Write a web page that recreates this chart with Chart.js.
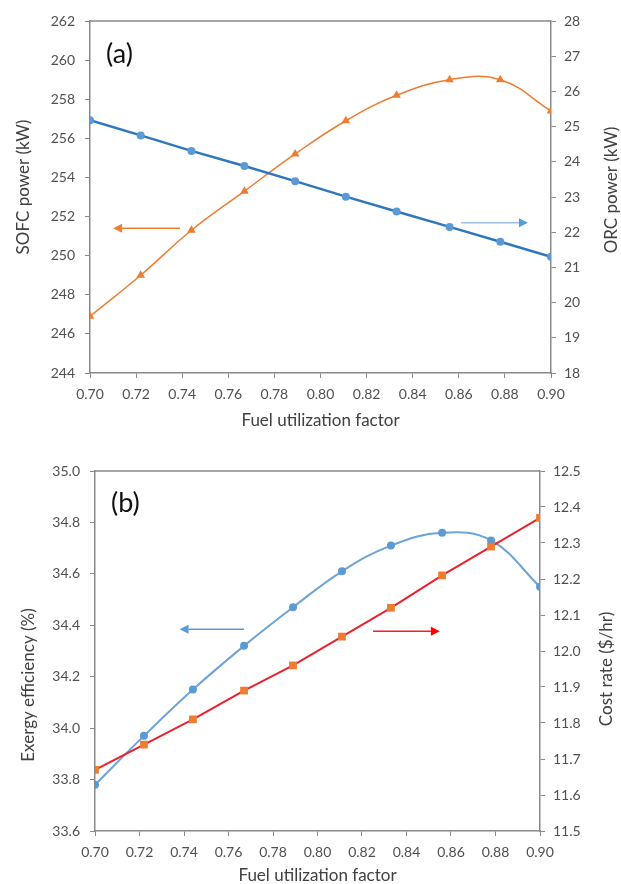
<!DOCTYPE html>
<html lang="en">
<head>
<meta charset="UTF-8">
<title>Fuel utilization factor</title>
<script src="https://cdn.jsdelivr.net/npm/chart.js"></script>
<style>
  html, body { margin: 0; padding: 0; background: #fff; overflow: hidden; }
  canvas { position: absolute; left: 0; }
  #chartA { top: 0; }
  #chartB { top: 440px; }
</style>
</head>
<body>
<canvas id="chartA" width="621" height="440"></canvas>
<canvas id="chartB" width="621" height="444"></canvas>
<script>
  // values
  const fuelFactor = [0.700, 0.722, 0.744, 0.767, 0.789, 0.811, 0.833, 0.856, 0.878, 0.900];

  // (a)
  const sofcPower = [246.9, 249.0, 251.3, 253.3, 255.2, 256.9, 258.2, 259.0, 259.0, 257.4];
  const orcPower = [25.18, 24.75, 24.31, 23.88, 23.45, 23.01, 22.59, 22.15, 21.73, 21.30];

  // (b)
  const exergyEff = [33.78, 33.97, 34.15, 34.32, 34.47, 34.61, 34.71, 34.76, 34.73, 34.55];
  const costRate = [11.67, 11.74, 11.81, 11.89, 11.96, 12.04, 12.12, 12.21, 12.29, 12.37];

  // arrows: [axis, x from, x to, level]
  const arrowsA = [['y', 0.739, 0.710, 251.4], ['y1', 0.861, 0.890, 22.27]];
  const arrowsB = [['y', 0.767, 0.738, 34.385], ['y1', 0.825, 0.855, 12.055]];

  const AXIS = '#898989';
  const TICK = '#505050';
  const TITLE = '#404040';
  const FONT = 'Lato';

  function pts(ys) {
    return fuelFactor.map((x, i) => ({ x: x, y: ys[i] }));
  }

  function vText(ctx, text, x, y) {
    ctx.save();
    ctx.translate(x, y);
    ctx.rotate(-Math.PI / 2);
    ctx.textAlign = 'center';
    ctx.textBaseline = 'middle';
    ctx.fillText(text, 0, 0);
    ctx.restore();
  }

  // top frame line, panel letter, y titles (both read bottom-to-top) and arrows
  const extras = {
    id: 'extras',
    afterDraw(chart, args, opts) {
      const { ctx, chartArea: a, scales } = chart;
      ctx.save();
      ctx.strokeStyle = AXIS;
      ctx.lineWidth = 1.5;
      ctx.beginPath();
      ctx.moveTo(a.left, a.top);
      ctx.lineTo(a.right, a.top);
      ctx.stroke();

      ctx.fillStyle = '#111';
      ctx.font = '27px ' + FONT;
      ctx.textBaseline = 'middle';
      ctx.fillText(opts.label, a.left + 16, a.top + opts.labelDy);

      ctx.fillStyle = TITLE;
      ctx.font = '17px ' + FONT;
      vText(ctx, opts.leftTitle, opts.leftTitleX, opts.leftTitleY);
      vText(ctx, opts.rightTitle, opts.rightTitleX, opts.rightTitleY);

      opts.arrows.forEach((ar, i) => {
        const ys = scales[ar[0]];
        const x0 = scales.x.getPixelForValue(ar[1]);
        const x1 = scales.x.getPixelForValue(ar[2]);
        const y = ys.getPixelForValue(ar[3]);
        const dir = x1 > x0 ? 1 : -1;
        const head = 9;
        ctx.strokeStyle = opts.arrowLine[i];
        ctx.fillStyle = opts.arrowHead[i];
        ctx.lineWidth = 1.5;
        ctx.beginPath();
        ctx.moveTo(x0, y);
        ctx.lineTo(x1 - dir * head, y);
        ctx.stroke();
        ctx.beginPath();
        ctx.moveTo(x1, y);
        ctx.lineTo(x1 - dir * head, y - 4.5);
        ctx.lineTo(x1 - dir * head, y + 4.5);
        ctx.closePath();
        ctx.fill();
      });
      ctx.restore();
    }
  };

  function xAxis(h, titlePad, titleLH) {
    return {
      type: 'linear',
      min: 0.7,
      max: 0.9,
      afterFit: s => { s.height = h; },
      ticks: {
        stepSize: 0.02,
        callback: v => v.toFixed(2),
        font: { family: FONT, size: 14 },
        color: TICK,
        padding: 8
      },
      grid: { drawOnChartArea: false, tickLength: 5, color: AXIS },
      border: { color: AXIS, width: 1.5 },
      title: {
        display: true,
        text: 'Fuel utilization factor',
        font: { family: FONT, size: 17, lineHeight: titleLH },
        color: TITLE,
        padding: { top: 0, bottom: titlePad }
      }
    };
  }

  function yAxis(pos, min, max, step, digits, w) {
    return {
      type: 'linear',
      position: pos,
      min: min,
      max: max,
      afterFit: s => { s.width = w; },
      ticks: {
        stepSize: step,
        callback: v => v.toFixed(digits),
        font: { family: FONT, size: 14 },
        color: TICK,
        padding: pos === 'left' ? 10 : 8
      },
      grid: { drawOnChartArea: false, tickLength: 5, color: AXIS },
      border: { color: AXIS, width: 1.5 }
    };
  }

  const common = {
    responsive: false,
    animation: false,
    plugins: { legend: { display: false }, tooltip: { enabled: false } }
  };

  new Chart(document.getElementById('chartA'), {
    type: 'line',
    data: {
      datasets: [{
        label: 'ORC power (kW)',
        data: pts(orcPower),
        yAxisID: 'y1',
        borderColor: '#2F77BC',
        borderWidth: 2.5,
        pointStyle: 'circle',
        pointRadius: 4,
        pointBackgroundColor: '#5B9BD5',
        pointBorderWidth: 0,
        tension: 0
      }, {
        label: 'SOFC power (kW)',
        data: pts(sofcPower),
        yAxisID: 'y',
        borderColor: '#ED7D31',
        borderWidth: 1.5,
        pointStyle: 'triangle',
        pointRadius: 5,
        pointBackgroundColor: '#ED7D31',
        pointBorderWidth: 0,
        tension: 0.4
      }]
    },
    options: {
      ...common,
      layout: { padding: { top: 21, left: 0, right: 0, bottom: 0 } },
      scales: {
        x: xAxis(67, 9, 1.2),
        y: yAxis('left', 244, 262, 2, 0, 90),
        y1: yAxis('right', 18, 28, 1, 0, 70)
      },
      plugins: {
        ...common.plugins,
        extras: {
          label: '(a)', labelDy: 33,
          leftTitle: 'SOFC power (kW)', leftTitleX: 24, leftTitleY: 187,
          rightTitle: 'ORC power (kW)', rightTitleX: 612, rightTitleY: 190,
          arrows: arrowsA,
          arrowLine: ['#ED7D31', '#9DBFE3'],
          arrowHead: ['#ED7D31', '#5B9BD5']
        }
      }
    },
    plugins: [extras]
  });

  new Chart(document.getElementById('chartB'), {
    type: 'line',
    data: {
      datasets: [{
        label: 'Cost rate ($/hr)',
        data: pts(costRate),
        yAxisID: 'y1',
        borderColor: '#E8222C',
        borderWidth: 2,
        pointStyle: 'rect',
        pointRadius: 5.5,
        pointBackgroundColor: '#ED7D31',
        pointBorderWidth: 0,
        tension: 0
      }, {
        label: 'Exergy efficiency (%)',
        data: pts(exergyEff),
        yAxisID: 'y',
        borderColor: '#6FA3D6',
        borderWidth: 2,
        pointStyle: 'circle',
        pointRadius: 4,
        pointBackgroundColor: '#5B9BD5',
        pointBorderWidth: 0,
        tension: 0.4
      }]
    },
    options: {
      ...common,
      layout: { padding: { top: 31, left: 0, right: 0, bottom: 0 } },
      scales: {
        x: xAxis(53, 0, 1),
        y: yAxis('left', 33.6, 35.0, 0.2, 1, 95),
        y1: yAxis('right', 11.5, 12.5, 0.1, 1, 81)
      },
      plugins: {
        ...common.plugins,
        extras: {
          label: '(b)', labelDy: 32,
          leftTitle: 'Exergy efficiency (%)', leftTitleX: 29, leftTitleY: 245,
          rightTitle: 'Cost rate ($/hr)', rightTitleX: 607, rightTitleY: 229,
          arrows: arrowsB,
          arrowLine: ['#5B9BD5', '#FF1A1A'],
          arrowHead: ['#5B9BD5', '#FF0000']
        }
      }
    },
    plugins: [extras]
  });
</script>
</body>
</html>
